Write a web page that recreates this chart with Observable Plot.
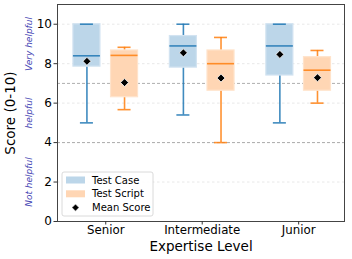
<!DOCTYPE html>
<html><head><meta charset="utf-8">
<script src="https://cdn.jsdelivr.net/npm/d3@7"></script>
<script src="https://cdn.jsdelivr.net/npm/@observablehq/plot@0.6"></script>
<style>body{margin:0;background:#fff;font-family:"DejaVu Sans",sans-serif}</style>
</head><body><div id="chart"></div>
<script>
const categories = ["Senior", "Intermediate", "Junior"];
const series = ["Test Case", "Test Script"];
const yTicks = [0, 2, 4, 6, 8, 10];
const thresholds = [4, 7];
const zoneLabels = ["Not helpful", "helpful", "Very helpful"];
const zoneCenters = [2, 5.5, 9];

const caseLow    = [5.0, 5.4, 5.0];
const caseQ1     = [7.85, 7.8, 7.4];
const caseMedian = [8.4, 8.9, 8.9];
const caseQ3     = [10.0, 9.4, 10.0];
const caseHigh   = [10.0, 10.0, 10.0];
const caseMean   = [8.12, 8.55, 8.47];

const scriptLow    = [5.67, 4.0, 6.0];
const scriptQ1     = [6.3, 6.63, 6.63];
const scriptMedian = [8.42, 8.0, 7.67];
const scriptQ3     = [8.67, 8.67, 8.33];
const scriptHigh   = [8.83, 9.33, 8.67];
const scriptMean   = [7.04, 7.27, 7.29];

const lineColor = {"Test Case": "#1f77b4", "Test Script": "#ff7f0e"};
const fillColor = {"Test Case": "#bcd6e9", "Test Script": "#ffd6b4"};
const edgeColor = {"Test Case": "#d2e3f1", "Test Script": "#ffe3cb"};

const offset = 0.195, boxW = 0.28, capW = 0.135;
const stats = [
  [caseLow, caseQ1, caseMedian, caseQ3, caseHigh, caseMean],
  [scriptLow, scriptQ1, scriptMedian, scriptQ3, scriptHigh, scriptMean]
];
const rows = [];
series.forEach((s, si) => {
  categories.forEach((c, ci) => {
    const [lo, q1, me, q3, hi, mn] = stats[si].map(a => a[ci]);
    rows.push({series: s, category: c, pos: ci + 1 + (si === 0 ? -offset : offset),
      low: lo, q1, median: me, q3, high: hi, mean: mn});
  });
});

const plot = Plot.plot({
  width: 352, height: 259,
  marginLeft: 57, marginRight: 8, marginTop: 4, marginBottom: 38,
  style: {fontFamily: "DejaVu Sans, sans-serif", background: "#fff"},
  x: {domain: [0.5, 3.475], axis: null},
  y: {domain: [0, 11], axis: null},
  marks: [
    Plot.ruleY(yTicks.filter(v => v > 0), {stroke: "#e2e2e2", strokeWidth: 0.8, strokeDasharray: "2.5,2.5"}),
    Plot.ruleY(thresholds, {stroke: "#a6a6a6", strokeWidth: 0.9, strokeDasharray: "3,2"}),
    Plot.ruleX(rows, {x: "pos", y1: "low", y2: "q1", stroke: d => lineColor[d.series], strokeWidth: 1.6, strokeOpacity: 0.85}),
    Plot.ruleX(rows, {x: "pos", y1: "q3", y2: "high", stroke: d => lineColor[d.series], strokeWidth: 1.6, strokeOpacity: 0.85}),
    Plot.rect(rows, {x1: d => d.pos - boxW / 2, x2: d => d.pos + boxW / 2, y1: "q1", y2: "q3",
      fill: d => fillColor[d.series], stroke: d => edgeColor[d.series], strokeWidth: 1.2}),
    Plot.ruleY(rows, {y: "low", x1: d => d.pos - capW / 2, x2: d => d.pos + capW / 2, stroke: d => lineColor[d.series], strokeWidth: 1.6, strokeOpacity: 0.85}),
    Plot.ruleY(rows, {y: "high", x1: d => d.pos - capW / 2, x2: d => d.pos + capW / 2, stroke: d => lineColor[d.series], strokeWidth: 1.6, strokeOpacity: 0.85}),
    Plot.ruleY(rows, {y: "median", x1: d => d.pos - boxW / 2, x2: d => d.pos + boxW / 2, stroke: d => lineColor[d.series], strokeWidth: 1.6, strokeOpacity: 0.85}),
    Plot.dot(rows, {x: "pos", y: "mean", symbol: "diamond2", r: 3.6, fill: "black", stroke: "white", strokeWidth: 0.8}),
    Plot.frame({stroke: "#444", strokeWidth: 1}),
    Plot.axisY(yTicks, {tickSize: 3.5, tickPadding: 2, fontSize: 12, label: null, stroke: "#333"}),
    Plot.axisX([1, 2, 3], {tickSize: 3.5, tickPadding: 1, fontSize: 11.8, label: null, stroke: "#333",
      tickFormat: d => categories[d - 1]}),
    Plot.text(zoneLabels, {x: 0.5, y: (d, i) => zoneCenters[i], text: d => d, dx: -28, rotate: -90,
      fill: "#4646b4", fontSize: 9, fontStyle: "italic", textAnchor: "middle", lineAnchor: "middle"}),
    Plot.text(["Score (0-10)"], {frameAnchor: "left", dx: -47, rotate: -90, fontSize: 13.5, textAnchor: "middle", lineAnchor: "middle", fill: "black"}),
    Plot.text(["Expertise Level"], {frameAnchor: "bottom", dy: 25.5, fontSize: 13.5, textAnchor: "middle", lineAnchor: "middle", fill: "black"})
  ]
});

// legend inside plot area (lower left)
const svg = d3.select(plot);
const lg = svg.append("g").attr("font-family", "DejaVu Sans, sans-serif").attr("font-size", 10).attr("text-anchor", "start");
lg.append("rect").attr("x", 62).attr("y", 172).attr("width", 91).attr("height", 44)
  .attr("rx", 2).attr("fill", "white").attr("fill-opacity", 0.85).attr("stroke", "#d0d0d0").attr("stroke-width", 0.8);
const legendItems = [...series, "Mean Score"];
legendItems.forEach((name, i) => {
  const cy = 180 + i * 13.8;
  if (i < 2) {
    lg.append("rect").attr("x", 66).attr("y", cy - 3.5).attr("width", 19).attr("height", 7).attr("fill", fillColor[name]);
  } else {
    lg.append("path").attr("d", d3.symbol(d3.symbolDiamond2, 32)()).attr("transform", `translate(75.5,${cy})`)
      .attr("fill", "black").attr("stroke", "white").attr("stroke-width", 0.6);
  }
  lg.append("text").attr("x", 92).attr("y", cy).attr("dy", "0.36em").attr("text-anchor", "start").attr("fill", "black").text(name);
});

document.getElementById("chart").appendChild(plot);
</script></body></html>
